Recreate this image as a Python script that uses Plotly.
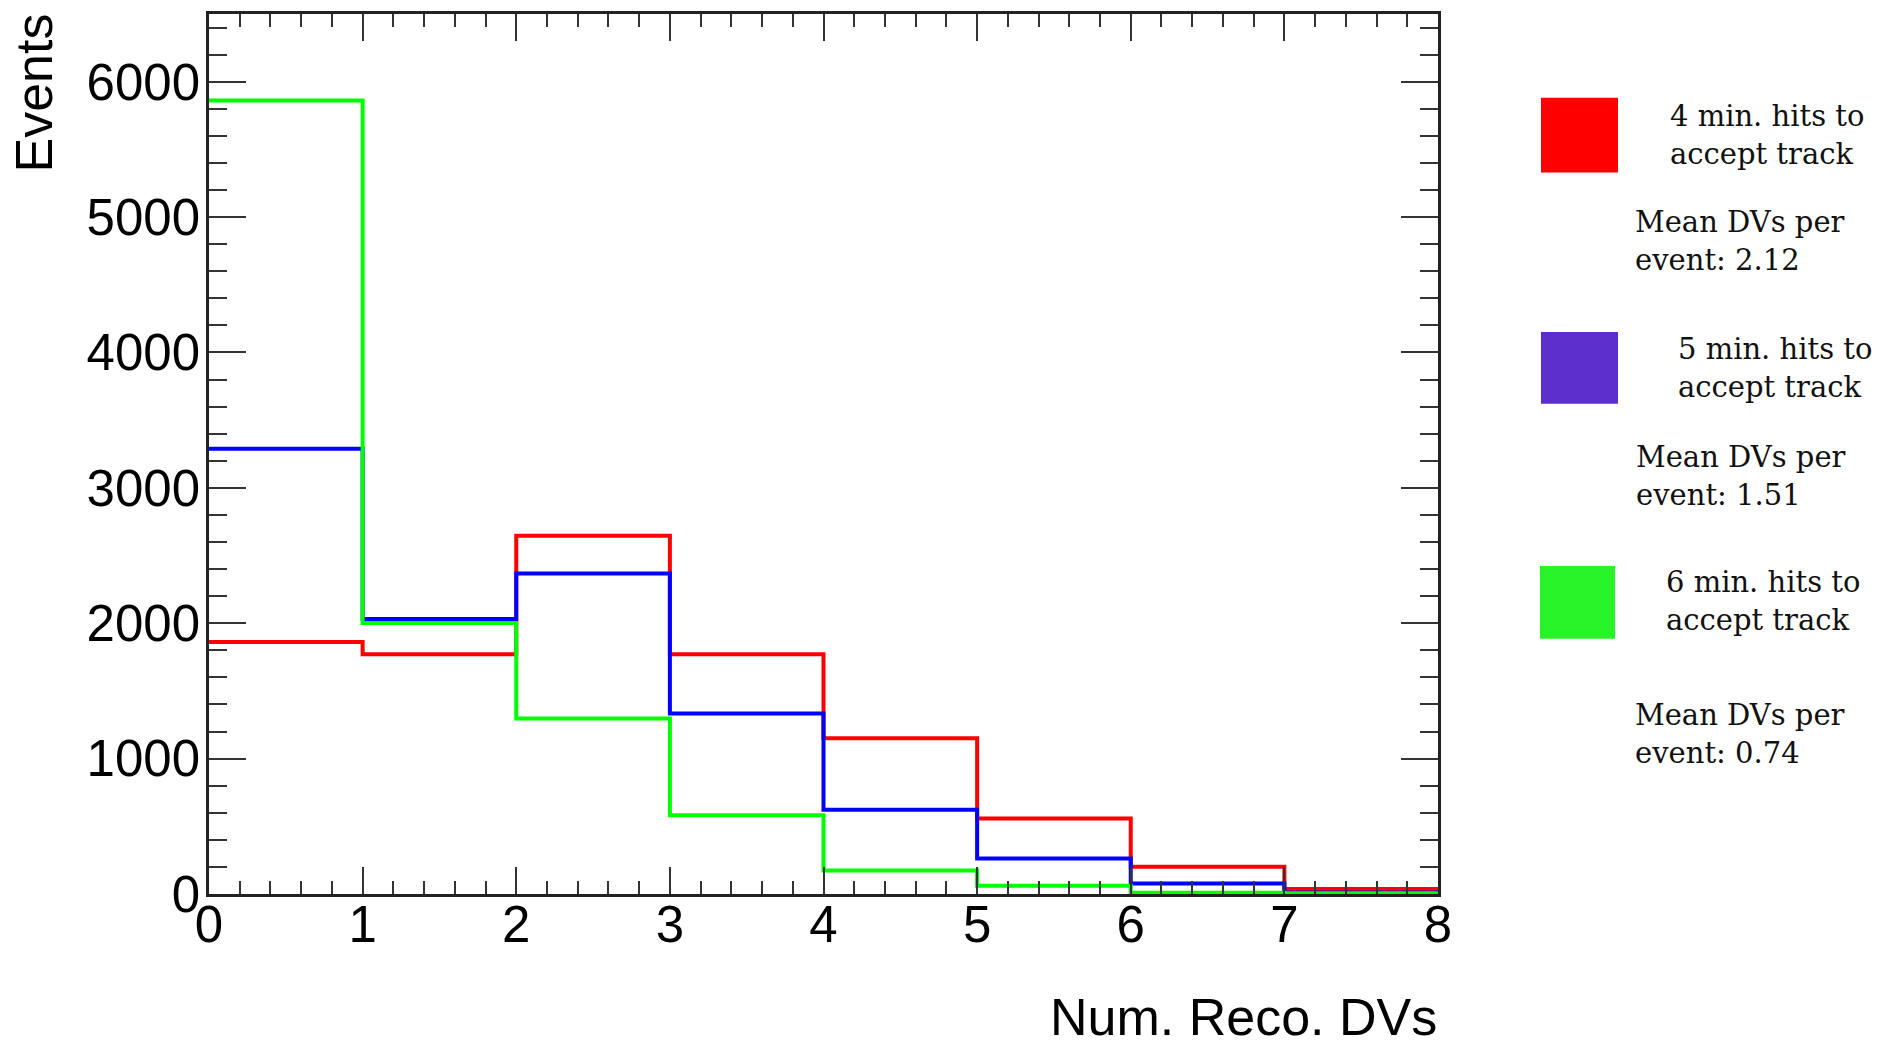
import plotly.graph_objects as go

# Bin edges of the reconstructed-DV multiplicity histogram
bin_edges = [0, 1, 2, 3, 4, 5, 6, 7, 8]

# Event counts per bin for each minimum-hit requirement
counts_4hits = [1862, 1770, 2647, 1770, 1150, 557, 201, 37]
counts_5hits = [3289, 2031, 2368, 1333, 623, 262, 78, 12]
counts_6hits = [5862, 2002, 1296, 581, 174, 61, 9, 5]

series_names = ["4 min. hits to<br>accept track",
                "5 min. hits to<br>accept track",
                "6 min. hits to<br>accept track"]
mean_labels = ["Mean DVs per<br>event: 2.12",
               "Mean DVs per<br>event: 1.51",
               "Mean DVs per<br>event: 0.74"]
line_colors = ["#ff0000", "#0000ff", "#00ff00"]
swatch_colors = ["#ff0000", "#5c2fcc", "#28f228"]

x_ticks = [0, 1, 2, 3, 4, 5, 6, 7, 8]
y_ticks = [0, 1000, 2000, 3000, 4000, 5000, 6000]

W, H = 1888, 1042
L, R, T, B = 209, 1438, 11, 894
PW, PH = R - L, B - T


def px_x(px):
    return (px - L) / PW


def px_y(py):
    return (B - py) / PH


fig = go.Figure()
for counts, color in zip([counts_4hits, counts_5hits, counts_6hits], line_colors):
    fig.add_trace(go.Scatter(
        x=bin_edges,
        y=counts + [counts[-1]],
        mode="lines",
        line=dict(shape="hv", color=color, width=4),
        hoverinfo="skip",
        showlegend=False,
    ))

axis_font = dict(family="Liberation Sans, Arial, sans-serif", size=51, color="#000")

fig.update_layout(
    width=W, height=H,
    margin=dict(l=L, r=W - R, t=T, b=H - B, pad=0),
    paper_bgcolor="white",
    plot_bgcolor="white",
    showlegend=False,
    xaxis=dict(
        range=[0, 8], tickvals=x_ticks, ticktext=[str(v) for v in x_ticks],
        ticks="inside", ticklen=27, tickwidth=2, tickcolor="#333",
        minor=dict(dtick=0.2, ticks="inside", ticklen=13, tickwidth=2, tickcolor="#333", showgrid=False),
        showline=True, linewidth=2.5, linecolor="#222", mirror="ticks",
        showgrid=False, zeroline=False, tickfont=axis_font, ticklabelstandoff=-16,
    ),
    yaxis=dict(
        range=[0, 6500], tickvals=y_ticks, ticktext=[str(v) for v in y_ticks],
        ticks="inside", ticklen=37, tickwidth=2, tickcolor="#333",
        minor=dict(dtick=200, ticks="inside", ticklen=18, tickwidth=2, tickcolor="#333", showgrid=False),
        showline=True, linewidth=2.5, linecolor="#222", mirror="ticks",
        showgrid=False, zeroline=False, tickfont=axis_font, ticklabelstandoff=-4,
    ),
)

annotations = []
# Axis titles
annotations.append(dict(
    text="Num. Reco. DVs", xref="paper", yref="paper",
    x=px_x(1439), y=px_y(1017), xanchor="right", yanchor="middle",
    showarrow=False, font=dict(family="Liberation Sans, Arial, sans-serif", size=52, color="#000"),
))
annotations.append(dict(
    text="Events", xref="paper", yref="paper", textangle=-90,
    x=px_x(34), y=px_y(8), xanchor="center", yanchor="top",
    showarrow=False, font=dict(family="Liberation Sans, Arial, sans-serif", size=52, color="#000"),
))

# Legend: colour swatches with descriptive text
swatch_boxes = [(1541, 95, 1618, 170), (1541, 330, 1618, 402), (1540, 565, 1615, 638)]
name_pos = [(1668, 132), (1676, 366), (1664, 600)]
mean_pos = [(1633, 239), (1634, 475), (1633, 733)]
legend_font = dict(family="DejaVu Serif, serif", size=29, color="#111")

shapes = []
for (x0, y0, x1, y1), color in zip(swatch_boxes, swatch_colors):
    shapes.append(dict(type="rect", xref="paper", yref="paper",
                       x0=px_x(x0), x1=px_x(x1), y0=px_y(y1), y1=px_y(y0),
                       fillcolor=color, line=dict(width=0), layer="above"))

for name, (nx, ny), mean, (mx, my) in zip(series_names, name_pos, mean_labels, mean_pos):
    annotations.append(dict(text=name, xref="paper", yref="paper", x=px_x(nx), y=px_y(ny),
                            xanchor="left", yanchor="middle", align="left",
                            showarrow=False, font=legend_font))
    annotations.append(dict(text=mean, xref="paper", yref="paper", x=px_x(mx), y=px_y(my),
                            xanchor="left", yanchor="middle", align="left",
                            showarrow=False, font=legend_font))

fig.update_layout(annotations=annotations, shapes=shapes)

fig.write_html("out.html")
